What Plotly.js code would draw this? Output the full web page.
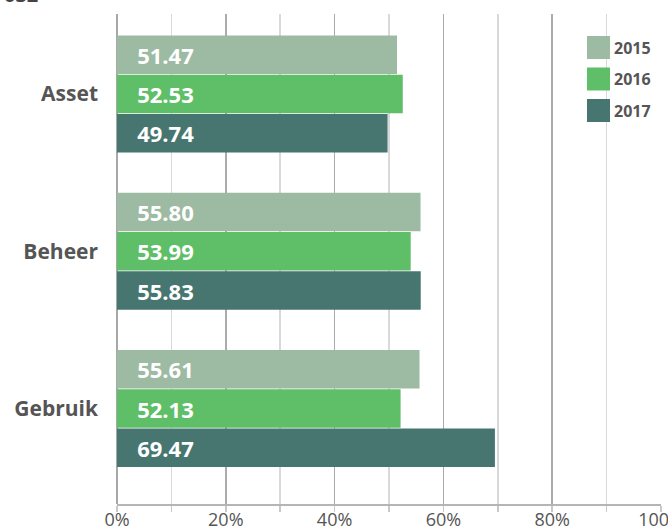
<!DOCTYPE html>
<html>
<head>
<meta charset="utf-8">
<script src="https://cdn.plot.ly/plotly-3.0.1.min.js"></script>
<style>html,body{margin:0;padding:0;background:#fff;}#chart{width:668px;height:529px;}</style>
</head>
<body>
<div id="chart"></div>
<script>
const categories = ["Asset", "Beheer", "Gebruik"];
const years = ["2015", "2016", "2017"];
const values2015 = [51.47, 55.80, 55.61];
const values2016 = [52.53, 53.99, 52.13];
const values2017 = [49.74, 55.83, 69.47];
const colors = ["#9dbaa3", "#5fbe68", "#477671"];
const xTickVals = [0, 20, 40, 60, 80, 100];
const xTickText = ["0%", "20%", "40%", "60%", "80%", "100%"];

const series = [values2015, values2016, values2017];
const W = 668, H = 529, mL = 117, mR = 7, mT = 14, mB = 25;
const plotH = H - mT - mB, plotW = W - mL - mR;
const pad = "\u00a0\u00a0\u00a0";

const traces = series.map((vals, i) => ({
  type: "bar",
  orientation: "h",
  name: years[i],
  y: categories,
  x: vals,
  marker: {color: colors[i]},
  text: vals.map(v => pad + v.toFixed(2)),
  textposition: "inside",
  insidetextanchor: "start",
  constraintext: "none",
  textfont: {family: "Open Sans", size: 22, color: "#ffffff", weight: 700},
  hoverinfo: "skip",
  showlegend: false
}));

const shapes = [];
const annotations = [];
const sqTops = [36, 67.5, 99];
years.forEach((yr, i) => {
  const top = sqTops[i], bot = top + 23;
  shapes.push({
    type: "rect", xref: "paper", yref: "paper",
    x0: (587 - mL) / plotW, x1: (610 - mL) / plotW,
    y0: 1 - (bot - mT) / plotH, y1: 1 - (top - mT) / plotH,
    fillcolor: colors[i], line: {width: 0}
  });
  annotations.push({
    xref: "paper", yref: "paper",
    x: (612 - mL) / plotW, y: 1 - ((top + bot) / 2 - mT) / plotH,
    xanchor: "left", yanchor: "middle", showarrow: false,
    text: "<b>" + yr + "</b>",
    font: {family: "Open Sans", size: 16, color: "#555555"}
  });
});
annotations.push({
  xref: "paper", yref: "paper",
  x: (2 - mL) / plotW, y: 1 + (mT - 10) / plotH,
  xanchor: "left", yanchor: "bottom", showarrow: false,
  text: "<b>032</b>",
  font: {family: "Open Sans", size: 20, color: "#444444"}
});

const layout = {
  width: W, height: H,
  margin: {l: mL, r: mR, t: mT, b: mB, pad: 0},
  paper_bgcolor: "#ffffff", plot_bgcolor: "#ffffff",
  barmode: "group", bargap: 0.25, bargroupgap: 0.02,
  font: {family: "Open Sans", color: "#555555"},
  hovermode: false,
  xaxis: {
    range: [0, 100],
    tickvals: xTickVals, ticktext: xTickText,
    showgrid: true, gridcolor: "#ababab", gridwidth: 1.5,
    zeroline: true, zerolinecolor: "#a8a8a8", zerolinewidth: 2,
    showline: true, linecolor: "#b5b5b5", linewidth: 1.5,
    ticks: "outside", ticklen: 6, tickcolor: "#c8c8c8", tickwidth: 1.5,
    ticklabelstandoff: -7,
    ticklabeloverflow: "allow",
    tickfont: {family: "Open Sans", size: 18, color: "#555555"},
    minor: {dtick: 10, tick0: 0, showgrid: true, gridcolor: "#d9d9d9", gridwidth: 1.5,
            ticks: "outside", ticklen: 6, tickcolor: "#c8c8c8", tickwidth: 1.5},
    fixedrange: true
  },
  yaxis: {
    type: "category",
    range: [2.607, -0.509],
    showgrid: false, zeroline: false, showline: false,
    ticks: "", ticklabelstandoff: 18,
    tickfont: {family: "Open Sans", size: 21, color: "#555555", weight: 700},
    fixedrange: true
  },
  shapes: shapes,
  annotations: annotations,
  showlegend: false
};

Plotly.newPlot("chart", traces, layout, {displayModeBar: false, staticPlot: true});
</script>
</body>
</html>
